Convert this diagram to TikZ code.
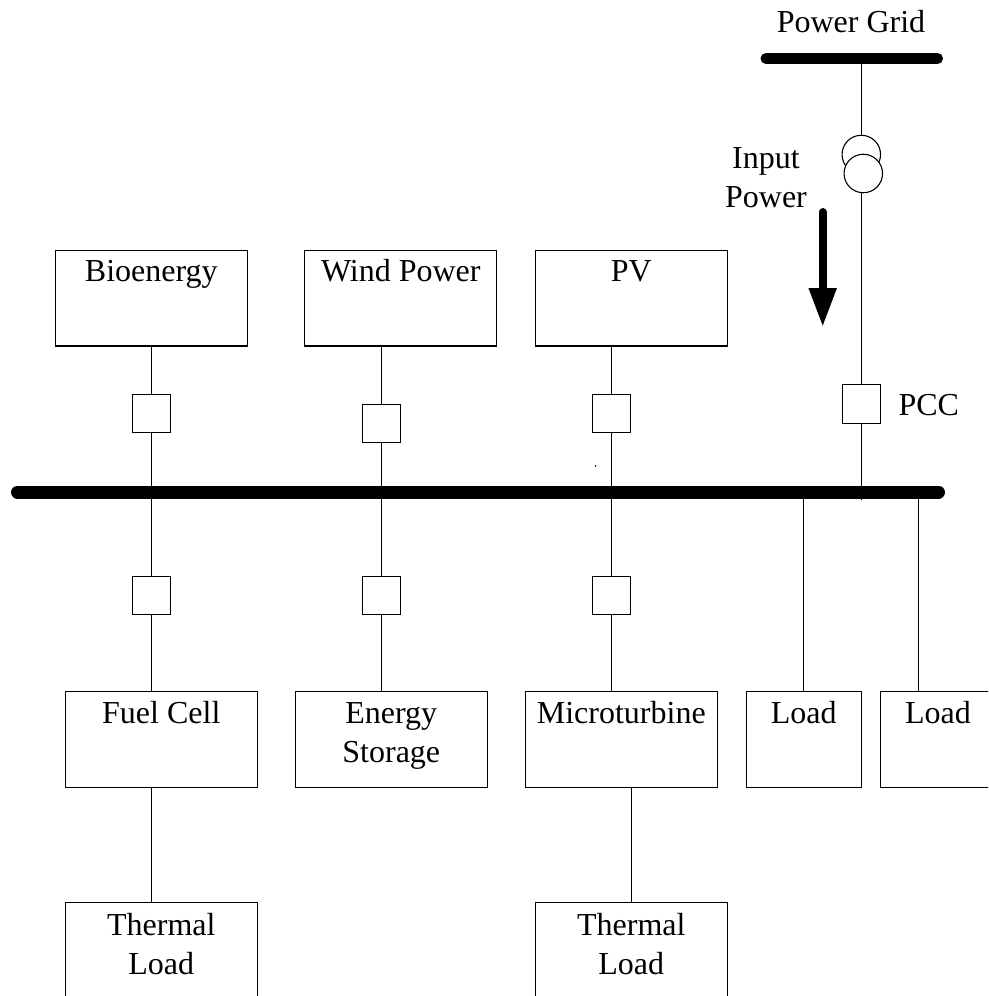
\documentclass[tikz,border=0pt]{standalone}
\usepackage{fontspec}
\setmainfont{Liberation Serif}
\usetikzlibrary{arrows.meta,positioning}

\begin{document}
\begin{tikzpicture}[x=1pt, y=-1pt, line width=1.1pt,
	every node/.style={font=\fontsize{32}{39}\selectfont},
	unitbox/.style={draw, anchor=north west, inner sep=0pt, outer sep=0pt, minimum width=192pt, minimum height=95.5pt},
	unittext/.style={anchor=north, align=center, inner sep=0pt, yshift=-3.6pt, execute at begin node=\strut},
	unittwo/.style={unittext, yshift=-7pt},
	breaker/.style={draw, inner sep=0pt, outer sep=0pt, minimum size=38.5pt},
	winding/.style={draw, circle, inner sep=0pt, outer sep=0pt, minimum size=38.5pt},
	busbar/.style={line cap=round}]
	\useasboundingbox (0,0) rectangle (988,996);
	\clip (0,0) rectangle (988,996);
	
	% sources
	\node[unitbox, label={[unittext]north:Bioenergy}] (bio) at (55.3,250.5) {};
	\node[unitbox, label={[unittext]north:Wind Power}] (wind) at (304.8,250.5) {};
	\node[unitbox, label={[unittext]north:PV}] (pv) at (535.3,250.5) {};
	
	\node[breaker] (brBio) at (151.6,413.5) {};
	\node[breaker] (brWind) at (381.6,423.5) {};
	\node[breaker] (brPv) at (611.6,413.5) {};
	
	% main bus
	\coordinate (busL) at (17.5,492);
	\coordinate (busR) at (938.5,492);
	\draw[busbar, line width=13pt] (busL) -- (busR);
	
	\node[breaker] (brFuel) at (151.6,595.5) {};
	\node[breaker] (brStore) at (381.6,595.5) {};
	\node[breaker] (brMicro) at (611.6,595.5) {};
	
	% lower row
	\node[unitbox, label={[unittext]north:Fuel Cell}] (fuel) at (65.3,691.7) {};
	\node[unitbox, label={[unittwo]north:{Energy\\Storage}}] (store) at (295.3,691.7) {};
	\node[unitbox, label={[unittext]north:Microturbine}] (micro) at (525.3,691.7) {};
	\node[unitbox, minimum width=115pt, label={[unittext]north:Load}] (loadA) at (746.3,691.7) {};
	\node[unitbox, minimum width=130pt] (loadB) at (880.3,691.7) {};
	\node[anchor=north, align=center, inner sep=0pt, execute at begin node=\strut] (loadBtxt) at (938,695.3) {Load};
	
	\node[unitbox, minimum height=130pt, label={[unittwo]north:{Thermal\\Load}}] (heatA) at (65.3,902.5) {};
	\node[unitbox, minimum height=130pt, label={[unittwo]north:{Thermal\\Load}}] (heatB) at (535.3,902.5) {};
	
	% grid side
	\node[anchor=base] (gridtxt) at (851,32) {Power Grid};
	\coordinate (gridL) at (766,58.5);
	\coordinate (gridR) at (937.5,58.5);
	\draw[busbar, line width=11pt] (gridL) -- (gridR);
	
	\node[winding] (xfA) at (861.3,154.5) {};
	\node[winding, fill=white] (xfB) at (863.3,173.5) {};
	\node[breaker] (brPcc) at (861.3,404) {};
	\node[anchor=base west, inner sep=0pt] (pcctxt) at (898,415) {PCC};
	\node[align=center, inner sep=0pt] (inputtxt) at (766,178) {Input\\Power};
	
	\coordinate (flowA) at (822.7,212);
	\coordinate (flowB) at (822.7,327);
	\draw[line width=8pt, line cap=round, -{Triangle[length=39pt, width=26pt]}] (flowA) -- (flowB);
	
	% connectors
	\draw (brBio.north |- bio.south) -- (brBio.north);
	\draw (brWind.north |- wind.south) -- (brWind.north);
	\draw (brPv.north |- pv.south) -- (brPv.north);
	\draw (brBio.south) -- (brBio.south |- busL);
	\draw (brWind.south) -- (brWind.south |- busL);
	\draw (brPv.south) -- (brPv.south |- busL);
	\coordinate (pvjoin) at (611.6,442);
	\draw[line width=1.6pt] (pvjoin) -- (pvjoin |- busL);
	\coordinate (speck) at (595.5,466);
	\fill (speck) circle (0.9);
	
	\draw (brBio.south |- busL) -- (brFuel.north);
	\draw (brWind.south |- busL) -- (brStore.north);
	\draw (brPv.south |- busL) -- (brMicro.north);
	\draw (brFuel.south) -- (brFuel.south |- fuel.north);
	\draw (brStore.south) -- (brStore.south |- store.north);
	\draw (brMicro.south) -- (brMicro.south |- micro.north);
	
	\draw (loadA.north) -- (loadA.north |- busL);
	\coordinate (tapB) at (918.7,492);
	\draw (tapB) -- (tapB |- loadB.north);
	
	\coordinate (heatAtop) at (151.6,902.5);
	\draw (heatAtop |- fuel.south) -- (heatAtop);
	\draw (heatB.north |- micro.south) -- (heatB.north);
	
	\draw (gridL -| xfA.north) -- (xfA.north);
	\coordinate (pccend) at (861.3,500);
	\draw (xfA.north |- xfB.south) -- (brPcc.north);
	\draw (brPcc.south) -- (pccend);
\end{tikzpicture}
\end{document}
